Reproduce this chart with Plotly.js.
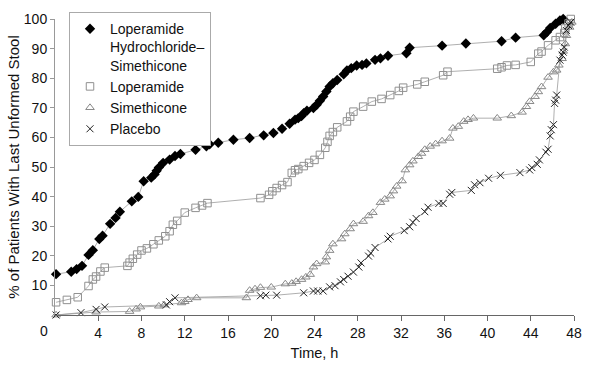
<!DOCTYPE html>
<html>
<head>
<meta charset="utf-8">
<script src="https://cdn.plot.ly/plotly-3.0.1.min.js"></script>
<style>body{margin:0;padding:0;background:#fff;}#chart{width:590px;height:373px;}</style>
</head>
<body>
<div id="chart"></div>
<script>
// Time (h) and cumulative % of patients with last unformed stool
const comboTime = [0.1,1.5,2.0,2.5,3.1,3.5,4.1,4.4,5.1,5.6,6.0,7.1,7.7,8.2,8.9,9.2,9.4,9.6,10.0,10.6,11.1,11.6,13.0,14.0,14.3,15.1,16.5,18.0,19.3,20.2,21.0,21.7,22.2,22.5,22.8,23.0,23.3,23.9,24.2,24.5,24.8,25.1,25.4,25.7,26.1,26.7,27.0,27.4,27.9,28.4,28.8,29.6,30.1,30.8,32.5,32.8,35.8,38.0,41.3,42.6,45.2,45.5,45.8,46.3,46.7,47.0];
const comboPct = [13.8,14.6,15.5,16.6,20.3,21.9,25.7,26.8,30.8,32.8,34.9,38.4,39.9,45.2,46.4,47.5,48.7,49.8,51.4,52.5,53.7,54.4,55.8,57.0,57.7,58.2,59.2,59.8,60.7,61.5,62.9,64.6,66.0,66.5,67.2,68.2,69.0,69.9,71.0,72.4,73.8,75.5,77.2,78.3,79.4,81.3,82.6,83.4,84.3,84.5,85.0,86.2,86.7,87.6,88.4,90.3,91.0,91.7,92.5,93.7,94.5,95.6,97.0,98.4,99.5,100];

const loperTime = [0.1,1.1,2.1,3.1,3.5,3.8,4.2,4.6,6.7,6.9,7.2,7.6,8.0,8.5,9.1,9.6,10.2,10.6,10.9,11.3,12.0,13.0,13.6,14.1,19.0,19.8,20.1,20.5,21.0,21.5,21.9,22.2,22.5,23.0,23.5,24.0,24.5,25.0,25.2,25.4,25.7,26.1,27.0,27.3,27.6,28.5,29.3,30.2,31.0,31.8,32.2,33.5,34.2,35.9,36.3,40.9,41.3,41.8,42.6,44.0,44.7,45.0,45.6,46.3,46.7,47.1,47.2,47.5,47.7];
const loperPct = [4.3,5.1,6.0,9.8,12.0,13.0,14.7,16.0,16.6,17.7,19.0,20.4,21.8,22.5,23.9,25.2,26.6,28.3,30.5,31.8,34.6,36.2,37.0,37.8,39.5,40.6,41.8,42.9,43.9,44.9,48.0,48.9,49.3,50.3,51.4,52.4,54.1,56.5,58.5,60.5,61.8,63.4,65.4,67.0,68.7,70.4,72.1,73.0,74.3,75.7,76.8,77.9,78.8,81.0,82.2,83.2,83.7,84.3,84.5,85.5,88.3,89.0,91.1,92.8,93.9,95.3,96.8,98.5,100];

const simeTime = [0.1,3.8,6.9,7.5,7.9,9.6,10.1,11.7,12.0,12.3,13.1,17.7,18.0,18.5,19.0,20.0,21.3,21.9,22.3,22.8,23.2,23.6,23.9,24.2,25.0,25.1,25.4,25.7,26.5,26.8,27.3,27.6,28.5,29.0,29.4,30.1,30.5,31.0,31.3,31.6,32.1,32.4,32.8,33.1,33.6,33.9,34.2,34.7,35.2,35.8,36.5,36.8,37.3,37.8,38.2,38.7,40.9,42.2,43.2,43.6,43.9,44.4,44.7,45.0,45.6,46.1,46.4,46.6,46.9,47.0,47.2,47.3,47.6,47.8];
const simePct = [0,1.0,1.2,2.0,2.7,3.0,3.4,4.1,4.5,5.2,5.8,5.8,8.3,8.8,9.3,9.4,10.5,10.7,11.3,12.0,12.8,13.7,16.2,17.3,17.9,19.6,21.8,24.0,25.7,27.4,29.1,30.8,31.6,33.5,34.6,38.0,39.1,40.2,41.9,43.5,45.3,49.0,50.7,52.0,53.5,54.6,55.9,57.0,57.8,58.8,59.7,63.1,63.7,65.4,66.0,66.5,66.5,67.3,68.5,70.4,72.1,73.8,75.4,77.1,80.3,82.1,82.7,84.4,86.6,89.1,91.6,94.4,97.2,98.9];

const placTime = [0.1,2.4,3.8,4.6,10.3,10.6,11.1,19.0,19.5,20.5,23.0,23.9,24.3,24.8,25.4,25.9,26.4,26.7,27.1,27.6,28.1,28.3,29.0,29.2,29.6,30.8,31.0,32.3,32.8,33.1,33.4,34.2,34.5,35.5,35.9,36.5,36.7,38.5,38.8,39.3,40.1,41.2,43.0,43.9,44.1,44.6,44.8,45.4,45.6,45.8,45.9,46.1,46.2,46.3,46.4,46.7,46.9,47.0,47.1,47.3,47.5,47.7];
const placPct = [0,0.8,1.9,2.7,3.4,4.5,5.8,6.5,6.7,6.7,7.5,8.1,8.1,8.1,9.5,9.9,11.2,12.0,13.1,14.5,16.2,17.6,19.9,20.9,22.8,25.7,26.6,28.5,29.8,31.3,32.6,34.9,36.4,37.7,37.7,40.8,41.4,42.1,44.0,44.7,46.2,47.2,48.1,49.0,49.8,50.9,52.4,55.0,56.0,60.5,62.6,64.3,71.5,72.6,74.3,86.1,87.8,88.8,90.5,96.1,97.8,98.9];

const seriesNames = ["Loperamide<br>Hydrochloride\u2013<br>Simethicone","Loperamide","Simethicone","Placebo"];
const xTicks = [4,8,12,16,20,24,28,32,36,40,44,48];
const yTicks = [10,20,30,40,50,60,70,80,90,100];

const FONT = "'Liberation Sans',Arial,sans-serif";
const lineStyle = {color:'#9a9a9a', width:0.8};

const series = [
  {t:comboTime, p:comboPct, marker:{symbol:'diamond', size:8, color:'#000', line:{width:0}}},
  {t:loperTime, p:loperPct, marker:{symbol:'square-open', size:7.5, color:'#909090', line:{width:1}}},
  {t:simeTime, p:simePct, marker:{symbol:'triangle-up-open', size:7.5, color:'#888888', line:{width:1}}},
  {t:placTime, p:placPct, marker:{symbol:'x-thin-open', size:7, color:'#222', line:{width:1, color:'#222'}}}
];

const traces = [];
series.forEach((s, i) => {
  traces.push({x:s.t, y:s.p, mode:'lines', line:lineStyle, showlegend:false, hoverinfo:'skip',
               legendgroup:'g'+i, cliponaxis:false});
});
series.forEach((s, i) => {
  traces.push({x:s.t, y:s.p, name:seriesNames[i], mode:'markers', marker:s.marker,
               legendgroup:'g'+i, cliponaxis:false});
});

const layout = {
  width:590, height:373,
  margin:{l:55, r:16, t:17, b:58},
  paper_bgcolor:'#fff', plot_bgcolor:'#fff',
  font:{family:FONT, size:14, color:'#111'},
  showlegend:true,
  legend:{x:0.027, xanchor:'left', y:1.023, yanchor:'top', bgcolor:'#fff',
          bordercolor:'#aaa', borderwidth:1, font:{family:FONT, size:14, color:'#111'},
          valign:'top', itemwidth:30, tracegroupgap:0, traceorder:'normal'},
  xaxis:{range:[0,48], tickvals:xTicks, ticktext:xTicks.map(String), ticks:'outside', ticklen:5,
         tickcolor:'#666', showline:true, linecolor:'#666', linewidth:1, showgrid:false, zeroline:false,
         tickfont:{family:FONT, size:14, color:'#111'},
         title:{text:'Time, h', font:{family:FONT, size:14.5, color:'#111'}, standoff:8}},
  yaxis:{range:[0,100], tickvals:yTicks, ticks:'outside', ticklen:4, tickcolor:'#999',
         showline:true, linecolor:'#999', linewidth:1, showgrid:false, zeroline:false,
         tickfont:{family:FONT, size:14, color:'#111'},
         title:{text:'% of Patients With Last Unformed Stool', font:{family:FONT, size:15, color:'#111'}, standoff:0}},
  annotations:[{x:0, y:0, xref:'x', yref:'paper', text:'0', showarrow:false, xanchor:'center', yanchor:'top',
                xshift:-11, yshift:-6, font:{family:FONT, size:14, color:'#111'}}]
};

Plotly.newPlot('chart', traces, layout, {displayModeBar:false, staticPlot:true});
</script>
</body>
</html>
